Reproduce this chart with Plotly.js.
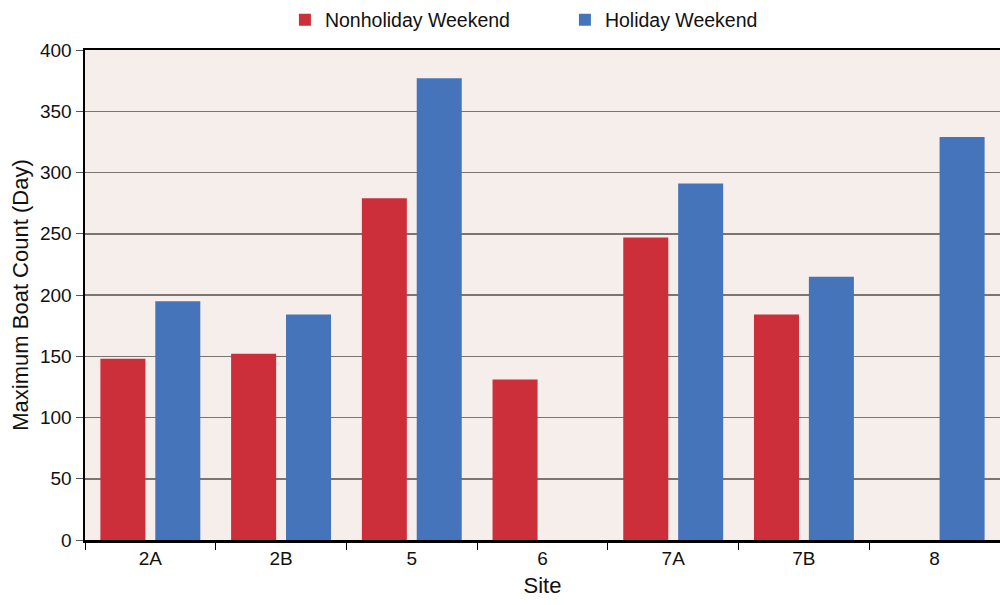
<!DOCTYPE html>
<html>
<head>
<meta charset="utf-8">
<script src="https://cdn.plot.ly/plotly-3.0.1.min.js"></script>
<style>html,body{margin:0;padding:0;background:#fff}#chart{width:1000px;height:605px}</style>
</head>
<body>
<div id="chart"></div>
<script>
const sites = ["2A", "2B", "5", "6", "7A", "7B", "8"];
const nonholiday = [148, 152, 279, 131, 247, 184, null];
const holiday = [195, 184, 377, null, 291, 215, 329];
const yTicks = [0, 50, 100, 150, 200, 250, 300, 350, 400];

const traces = [
  {type: "bar", name: "Nonholiday Weekend", x: sites, y: nonholiday,
   marker: {color: "#CC2E3A"}, hoverinfo: "x+y"},
  {type: "bar", name: "Holiday Weekend", x: sites, y: holiday,
   marker: {color: "#4674BA"}, hoverinfo: "x+y"}
];

const fam = "Liberation Sans, Arial, sans-serif";
const font = {family: fam, color: "#111", size: 19};

const layout = {
  width: 1000, height: 605,
  margin: {l: 85, r: 0, t: 50, b: 65},
  paper_bgcolor: "#ffffff",
  plot_bgcolor: "#F6EEEA",
  font: font,
  barmode: "group",
  bargap: 0.16,
  bargroupgap: 0.18,
  showlegend: true,
  legend: {orientation: "h", x: 0.5245, xanchor: "center", y: 1 - 20/605, yanchor: "middle",
           yref: "container", font: {size: 19.5, family: fam, color: "#111"},
           entrywidth: 235, itemwidth: 30},
  xaxis: {
    type: "category", range: [-0.5, 6.5],
    title: {text: "Site", font: {size: 22, family: fam, color: "#111"}, standoff: 10},
    showline: true, linecolor: "#000", linewidth: 2.5, mirror: true,
    ticks: "outside", tickson: "boundaries", ticklen: 7, tickcolor: "#000", tickwidth: 1,
    showgrid: false, zeroline: false,
    tickfont: {size: 19, family: fam, color: "#111"}
  },
  yaxis: {
    range: [0, 400], tickvals: yTicks, ticktext: yTicks.map(String),
    title: {text: "Maximum Boat Count (Day)", font: {size: 22, family: fam, color: "#111"}, standoff: 6},
    showline: true, linecolor: "#000", linewidth: 2.5,
    ticks: "outside", ticklen: 7, tickcolor: "#555", tickwidth: 1,
    showgrid: true, gridcolor: "#7a7472", gridwidth: 1.5,
    zeroline: false,
    tickfont: {size: 19, family: fam, color: "#111"}
  }
};

Plotly.newPlot("chart", traces, layout, {displayModeBar: false, staticPlot: true});
</script>
</body>
</html>
